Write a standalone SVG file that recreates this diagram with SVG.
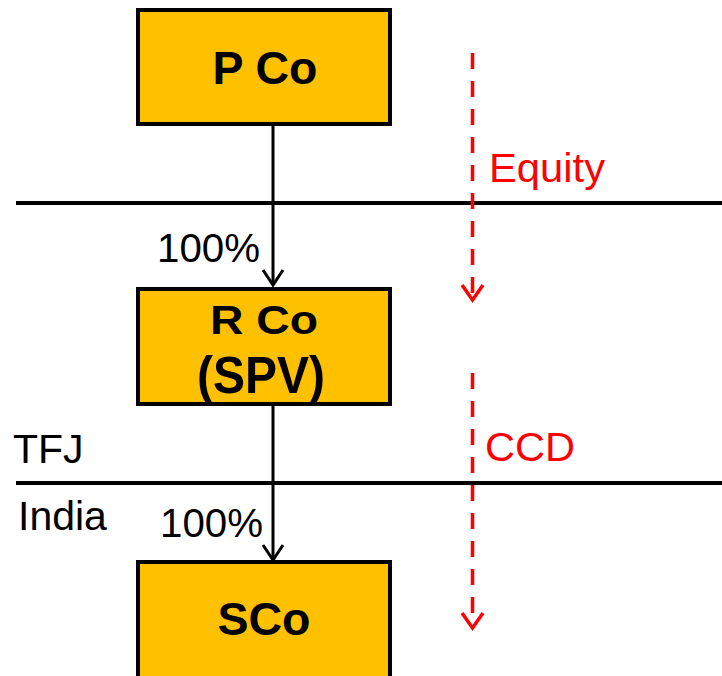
<svg xmlns="http://www.w3.org/2000/svg" width="722" height="676" viewBox="0 0 722 676">
<style>
.box{fill:#FFC000;stroke:#000;stroke-width:4}
.bt{font-family:"Liberation Sans",Arial,sans-serif;font-weight:bold;fill:#000;text-anchor:middle}
.lbl{font-family:"Liberation Sans",Arial,sans-serif;font-size:41px;fill:#000}
.red{font-family:"Liberation Sans",Arial,sans-serif;font-size:41px;fill:#FF0000}
.conn{stroke:#000;stroke-width:3;fill:none}
.dash{stroke:#FF0000;stroke-width:3.5;fill:none;stroke-dasharray:16 12}
.rh{stroke:#FF0000;stroke-width:3.5;fill:none}
.bl{stroke:#000;stroke-width:4}
</style>
<rect width="722" height="676" fill="#fff"/>
<g id="borders">
<line class="bl" x1="16" y1="203" x2="722" y2="203"/>
<line class="bl" x1="16" y1="483" x2="722" y2="483"/>
<text class="lbl" x="13" y="463">TFJ</text>
<text class="lbl" x="18" y="530">India</text>
</g>
<g id="connectors">
<line class="conn" x1="273" y1="124" x2="273" y2="284"/>
<polyline class="conn" points="263,270 273,285 283,270"/>
<text class="lbl" x="157" y="262" textLength="103" lengthAdjust="spacingAndGlyphs">100%</text>
<line class="conn" x1="273" y1="406" x2="273" y2="559"/>
<polyline class="conn" points="263,545 273,560 283,545"/>
<text class="lbl" x="160" y="537" textLength="103" lengthAdjust="spacingAndGlyphs">100%</text>
<line class="dash" x1="472.5" y1="53" x2="472.5" y2="298"/>
<polyline class="rh" points="462,285 472.5,300 483,285"/>
<text class="red" x="489" y="182" textLength="116" lengthAdjust="spacingAndGlyphs">Equity</text>
<line class="dash" x1="472.5" y1="373" x2="472.5" y2="626"/>
<polyline class="rh" points="462,613 472.5,628 483,613"/>
<text class="red" x="485" y="461" textLength="90" lengthAdjust="spacingAndGlyphs">CCD</text>
</g>
<g id="pco">
<rect class="box" x="138" y="10" width="252" height="114"/>
<text class="bt" x="265" y="84" font-size="47" textLength="105" lengthAdjust="spacingAndGlyphs">P Co</text>
</g>
<g id="rco">
<rect class="box" x="138" y="289" width="252" height="115"/>
<text class="bt" x="264" y="334" font-size="41" textLength="108" lengthAdjust="spacingAndGlyphs">R Co</text>
<text class="bt" x="261" y="393" font-size="52" textLength="128" lengthAdjust="spacingAndGlyphs">(SPV)</text>
</g>
<g id="sco">
<rect class="box" x="138" y="562" width="252" height="130"/>
<text class="bt" x="264" y="635" font-size="46" textLength="93" lengthAdjust="spacingAndGlyphs">SCo</text>
</g>
</svg>
